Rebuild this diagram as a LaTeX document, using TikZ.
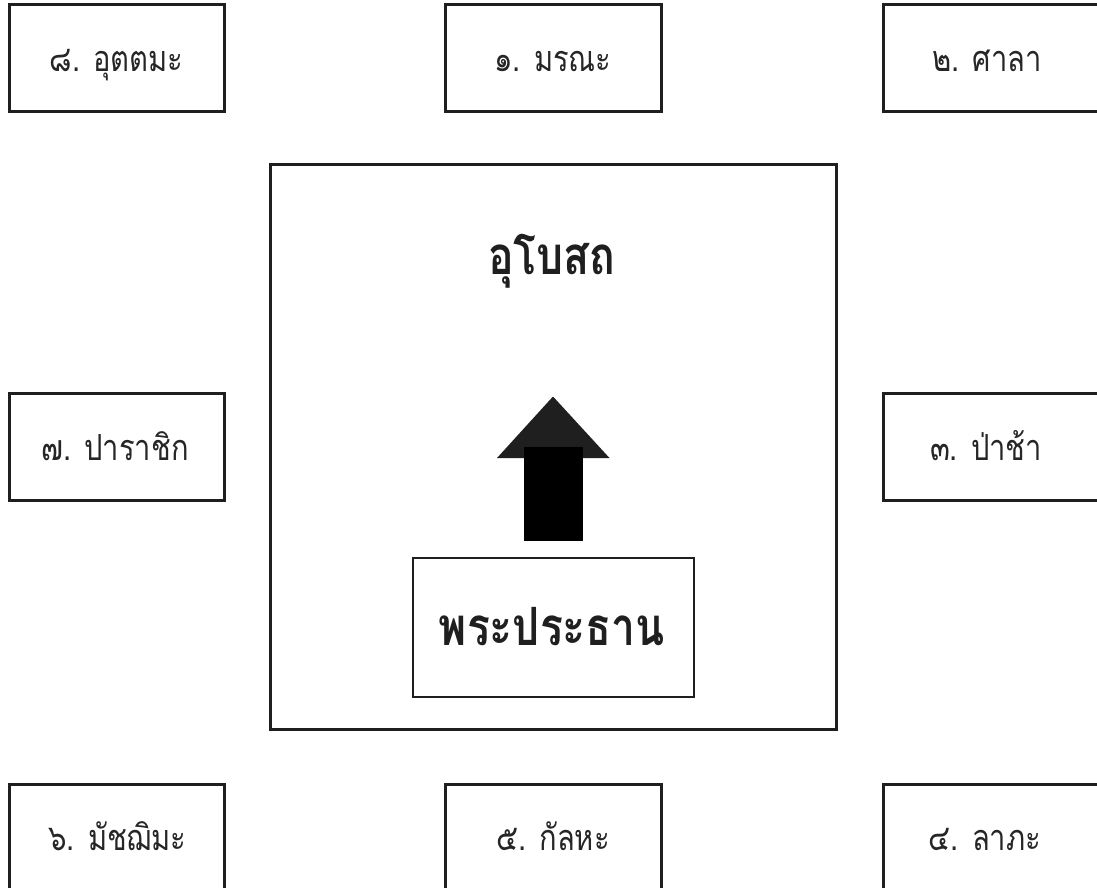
\documentclass[tikz,border=0pt]{standalone}
\usepackage{fontspec}
\newfontfamily\thaifont[Script=Thai]{Loma}
\newcommand{\tallt}[1]{\scalebox{0.97}[1.2]{#1}}
\begin{document}
\begin{tikzpicture}[x=1pt,y=-1pt,
  box/.style={draw=black!88,line width=3pt,inner sep=0pt},
  lbl/.style={anchor=base,inner sep=0pt,font=\thaifont\fontsize{30}{30}\selectfont,text=black!85},
  big/.style={anchor=base,inner sep=0pt,font=\thaifont\bfseries\fontsize{44}{44}\selectfont,text=black!88}]
\useasboundingbox (0,0) rectangle (1097,888);
\clip (0,0) rectangle (1097,888);
% outer boxes
\node[box,minimum width=215pt,minimum height=107pt] (b8) at (117,58.5) {};
\node[box,minimum width=216pt,minimum height=107pt] (b1) at (553.5,58.5) {};
\node[box,minimum width=230pt,minimum height=107pt] (b2) at (998,58.5) {};
\node[box,minimum width=215pt,minimum height=107pt] (b7) at (117,446.5) {};
\node[box,minimum width=230pt,minimum height=107pt] (b3) at (998,446.5) {};
\node[box,minimum width=215pt,minimum height=107pt] (b6) at (117,838) {};
\node[box,minimum width=216pt,minimum height=107pt] (b5) at (553.5,838) {};
\node[box,minimum width=230pt,minimum height=107pt] (b4) at (998,838) {};
\node[lbl] (t8) at (116.5,72) {\tallt{๘. อุตตมะ}};
\node[lbl] (t1) at (553,72) {\tallt{๑. มรณะ}};
\node[lbl] (t2) at (987,72) {\tallt{๒. ศาลา}};
\node[lbl] (t7) at (115,460) {\tallt{๗. ปาราชิก}};
\node[lbl] (t3) at (986,460) {\tallt{๓. ป่าช้า}};
\node[lbl] (t6) at (117.5,850) {\tallt{๖. มัชฌิมะ}};
\node[lbl] (t5) at (553,850) {\tallt{๕. กัลหะ}};
\node[lbl] (t4) at (985,850) {\tallt{๔. ลาภะ}};
% main hall
\node[box,minimum width=566pt,minimum height=565pt] (hall) at (553,447) {};
\node[big] (ubosot) at (552,274) {\tallt{อุโบสถ}};
% statue box
\node[draw=black!88,line width=2pt,inner sep=0pt,minimum width=281pt,minimum height=139pt] (statue) at (553.5,627.5) {};
\node[big] (tstatue) at (552,645) {\tallt{พระประธาน}};
% arrow
\fill[black!88] (497,458) -- (553,396.5) -- (609.5,458) -- cycle;
\fill[black] (524,446.5) rectangle (583,541);
\end{tikzpicture}
\end{document}
